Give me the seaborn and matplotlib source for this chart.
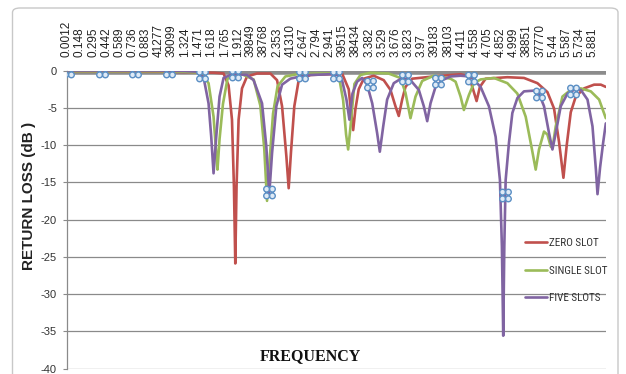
import numpy as np
import pandas as pd
import matplotlib
matplotlib.use("Agg")
import matplotlib.pyplot as plt
import seaborn as sns
from matplotlib.path import Path
from matplotlib.lines import Line2D
from matplotlib.patches import FancyBboxPatch
from matplotlib import font_manager

# frequency (GHz) and return loss (dB)
zero_freq = [0.0, 0.5, 1.0, 1.3, 1.5, 1.65, 1.754, 1.81, 1.848, 1.87, 1.885, 1.899, 1.922, 1.96, 2.016, 2.128,
             2.277, 2.352, 2.408, 2.456, 2.482, 2.508, 2.545, 2.594, 2.725, 2.948, 3.079, 3.153, 3.18, 3.203,
             3.228, 3.265, 3.321, 3.433, 3.545, 3.62, 3.676, 3.713, 3.751, 3.788, 3.863, 4.102, 4.404, 4.497,
             4.535, 4.583, 4.62, 4.684, 4.927, 5.113, 5.263, 5.375, 5.449, 5.505, 5.554, 5.591, 5.636, 5.692,
             5.785, 5.897, 5.972, 6.028]
zero_db = [-0.1, -0.1, -0.15, -0.2, -0.25, -0.3, -0.4, -2.0, -6.6, -15.6, -25.9, -15.6, -6.6, -2.4, -0.8, -0.4,
           -0.4, -1.3, -4.8, -11.5, -15.8, -10.9, -4.8, -1.3, -0.6, -0.5, -0.4, -2.5, -5.6, -8.0,
           -5.2, -2.5, -1.1, -0.7, -1.3, -2.6, -4.8, -6.1, -3.9, -2.2, -1.1, -0.8, -0.5, -0.8,
           -2.2, -4.1, -2.2, -1.1, -0.9, -1.0, -1.7, -2.9, -5.1, -9.6, -14.4, -10.0, -5.6, -3.5,
           -2.4, -1.9, -1.9, -2.2]

single_freq = [0.0, 0.5, 1.0, 1.3, 1.5, 1.586, 1.642, 1.672, 1.686, 1.709, 1.747, 1.798, 1.904, 1.941, 2.09,
               2.165, 2.209, 2.24, 2.265, 2.307, 2.358, 2.445, 2.576, 2.8, 3.0, 3.041, 3.091, 3.124, 3.147,
               3.172, 3.217, 3.284, 3.396, 3.598, 3.732, 3.788, 3.844, 3.9, 3.975, 4.102, 4.292, 4.348,
               4.404, 4.441, 4.497, 4.553, 4.628, 4.777, 4.927, 5.039, 5.132, 5.196, 5.244, 5.281, 5.337,
               5.375, 5.412, 5.431, 5.468, 5.543, 5.636, 5.748, 5.86, 5.953, 6.028]
single_db = [-0.1, -0.1, -0.1, -0.15, -0.3, -1.7, -6.2, -11.1, -13.3, -9.2, -4.5, -1.1, -0.5, -0.4, -1.2,
             -4.7, -10.5, -17.5, -12.7, -5.8, -2.1, -0.8, -0.5, -0.4, -0.4, -0.6, -4.0, -8.6, -10.6,
             -7.7, -1.8, -0.6, -0.3, -0.4, -1.0, -3.0, -6.4, -3.5, -1.4, -0.7, -1.1, -1.5,
             -3.5, -5.3, -3.3, -1.7, -1.2, -1.0, -1.7, -3.1, -6.2, -10.2, -13.3, -10.6, -8.2,
             -8.6, -10.2, -10.4, -7.5, -3.5, -2.6, -2.4, -2.8, -3.9, -6.4]

five_freq = [0.0, 0.5, 1.0, 1.3, 1.45, 1.53, 1.586, 1.616, 1.642, 1.672, 1.709, 1.754, 1.829, 1.9, 2.016,
             2.09, 2.184, 2.232, 2.265, 2.296, 2.344, 2.408, 2.5, 2.613, 2.725, 2.948, 3.041, 3.079, 3.128,
             3.161, 3.195, 3.247, 3.303, 3.359, 3.416, 3.471, 3.501, 3.539, 3.583, 3.657, 3.751, 3.844,
             3.937, 3.993, 4.031, 4.068, 4.124, 4.199, 4.292, 4.404, 4.516, 4.628, 4.721, 4.796, 4.844,
             4.866, 4.881, 4.893, 4.908, 4.945, 4.983, 5.039, 5.113, 5.225, 5.281, 5.337, 5.393, 5.431,
             5.468, 5.524, 5.599, 5.673, 5.748, 5.823, 5.879, 5.917, 5.935, 5.964, 5.998, 6.028]
five_db = [0.0, 0.0, 0.0, -0.05, -0.15, -0.9, -4.4, -8.9, -13.8, -8.9, -3.5, -1.0, -0.6, -0.5, -0.6,
           -1.3, -4.4, -10.2, -16.6, -11.1, -4.8, -1.9, -1.1, -0.8, -0.6, -0.5, -0.6, -1.3, -3.9,
           -6.6, -3.1, -1.5, -1.0, -1.9, -4.4, -8.4, -10.9, -7.5, -3.9, -1.7, -1.0, -1.3,
           -2.6, -4.8, -6.8, -4.4, -2.2, -1.3, -0.8, -0.7, -0.8, -2.2, -4.8, -8.9, -14.7,
           -23.6, -35.6, -23.6, -14.7, -9.7, -5.7, -3.7, -2.8, -2.7, -3.1, -4.8, -8.4, -10.6,
           -8.4, -4.8, -3.1, -2.6, -2.6, -3.9, -7.5, -13.3, -16.6, -13.0, -9.7, -7.1]

# the little blue marker symbols sitting on the five-slot curve
marker_freq = [0.018, 0.392, 0.766, 1.139, 1.512, 1.885, 2.258, 2.631, 3.016, 3.396, 3.777, 4.150,
               4.516, 4.897, 5.281, 5.663]
marker_db = [0.0, 0.0, 0.0, 0.0, -0.6, -0.5, -16.3, -0.6, -0.6, -1.8, -1.0, -1.4, -1.0, -16.7, -3.1, -2.8]

# category labels along the top (as printed in the source, incl. the date-mangled ones)
tick_freq = [0.0012, 0.148, 0.295, 0.442, 0.589, 0.736, 0.883, 1.030, 1.177, 1.324, 1.471, 1.618, 1.765,
             1.912, 2.059, 2.206, 2.353, 2.500, 2.647, 2.794, 2.941, 3.088, 3.235, 3.382, 3.529, 3.676,
             3.823, 3.97, 4.117, 4.264, 4.411, 4.558, 4.705, 4.852, 4.999, 5.146, 5.293, 5.44, 5.587,
             5.734, 5.881]
tick_labels = ["0.0012", "0.148", "0.295", "0.442", "0.589", "0.736", "0.883", "41277", "39099", "1.324",
               "1.471", "1.618", "1.765", "1.912", "39849", "38768", "2.353", "41310", "2.647", "2.794",
               "2.941", "39515", "38434", "3.382", "3.529", "3.676", "3.823", "3.97", "39183", "38103",
               "4.411", "4.558", "4.705", "4.852", "4.999", "38851", "37770", "5.44", "5.587", "5.734",
               "5.881"]

series_names = ["ZERO SLOT", "SINGLE SLOT", "FIVE SLOTS"]
colors = {"ZERO SLOT": "#C0504D", "SINGLE SLOT": "#9BBB59", "FIVE SLOTS": "#8064A2"}

df = pd.concat([
    pd.DataFrame({"freq": zero_freq, "db": zero_db, "series": "ZERO SLOT"}),
    pd.DataFrame({"freq": single_freq, "db": single_db, "series": "SINGLE SLOT"}),
    pd.DataFrame({"freq": five_freq, "db": five_db, "series": "FIVE SLOTS"}),
], ignore_index=True)

sns.set_theme(style="white")
plt.rcParams["font.family"] = ["Liberation Sans", "DejaVu Sans"]

# a narrow face for the legend, if there is one
installed = {f.name for f in font_manager.fontManager.ttflist}
legend_family = "Liberation Sans"
legend_size = 7.0
for cand in ["Liberation Sans Narrow", "DejaVu Sans Condensed", "Roboto Condensed", "Open Sans Condensed"]:
    if cand in installed:
        legend_family = cand
        legend_size = 8.0
        break

fig = plt.figure(figsize=(6.26, 3.74), dpi=100)
ax = fig.add_axes([66.7 / 626, 1 - 368.5 / 374, (606 - 66.7) / 626, (368.5 - 70.5) / 374])

# chart-area border
fig.patches.append(FancyBboxPatch((12.5 / 626, -0.05), (618 - 12.5) / 626, 1.0286,
                                  boxstyle="round,pad=0,rounding_size=0.012",
                                  transform=fig.transFigure, fc="none", ec="#c8c8c8", lw=1.0))

for y in range(-40, 0, 5):
    ax.axhline(y, color="#8a8a8a", lw=0.9, zorder=1)
ax.axhline(-0.2, color="#8c8c8c", lw=4.0, zorder=1.5)

sns.lineplot(data=df, x="freq", y="db", hue="series", hue_order=series_names, palette=colors,
             estimator=None, sort=True, lw=1.9, legend=False, ax=ax, zorder=3)

four_dots = Path.make_compound_path(*[Path.circle((dx, dy), 0.36)
                                      for dx in (-0.36, 0.36) for dy in (-0.42, 0.42)])
ax.plot(marker_freq, marker_db, linestyle="none", marker=four_dots, ms=9,
        mec="#5b8fc4", mfc="#dfeaf6", mew=1.0, zorder=4)

ax.set_xlim(0, 6.03)
ax.set_ylim(-40, 0)
ax.set_xlabel("")
ax.set_ylabel("")

ax.xaxis.tick_top()
ax.set_xticks(tick_freq)
ax.set_xticklabels(tick_labels, rotation=90, fontsize=8.5, color="#222222")
ax.tick_params(axis="x", length=0, pad=10)

ax.set_yticks(range(-40, 1, 5))
ax.set_yticklabels([str(v) for v in range(-40, 1, 5)], fontsize=8, color="#333333")
ax.tick_params(axis="y", left=True, length=3, width=0.8, color="#8a8a8a", pad=4)

for side in ["top", "right", "bottom"]:
    ax.spines[side].set_visible(False)
ax.spines["left"].set_color("#8a8a8a")
ax.spines["left"].set_linewidth(0.9)
ax.grid(False)

handles = [Line2D([], [], color=colors[s], lw=1.9) for s in series_names]
ax.legend(handles, series_names, loc="center left", bbox_to_anchor=(525 / 626, 1 - 270.5 / 374),
          bbox_transform=fig.transFigure, frameon=False, borderpad=0, borderaxespad=0,
          handlelength=2.0, handletextpad=0.15, labelspacing=1.55,
          prop={"family": legend_family, "size": legend_size})
for txt in ax.get_legend().get_texts():
    txt.set_color("#333333")

fig.text(29 / 626, 1 - 196 / 374, "RETURN LOSS (dB )", rotation=90, ha="center", va="center",
         fontsize=11, fontweight="bold", color="#222222")
fig.text(310 / 626, 1 - 356 / 374, "FREQUENCY", ha="center", va="center",
         family=["Liberation Serif", "DejaVu Serif"], fontsize=11.5, fontweight="bold", color="#111111")

fig.savefig("out.png", dpi=100)
